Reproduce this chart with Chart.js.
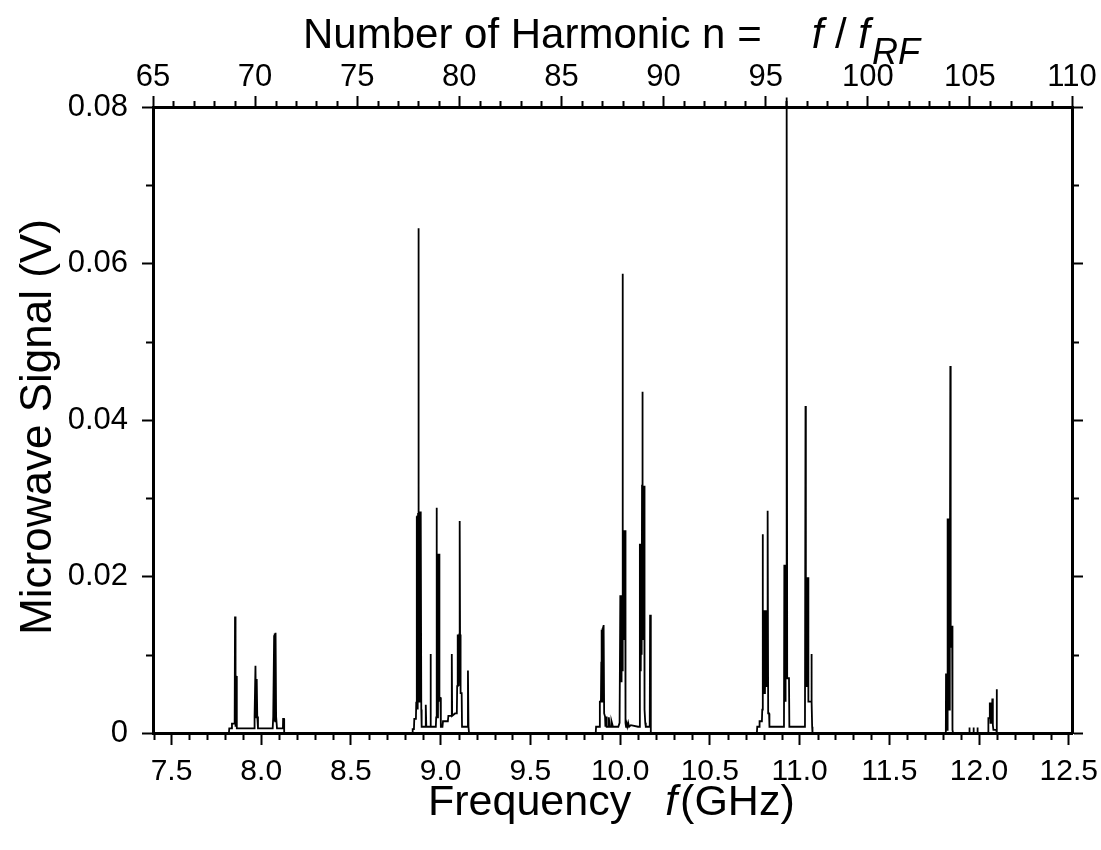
<!DOCTYPE html>
<html>
<head>
    <title>Microwave Signal Spectrum</title>
    <style>
        body {
            margin: 0px;
            background-color: #ffffff;
        }
    </style>
    <!-- Chart.js for drawing the spectrum -->
    <script src="https://cdn.jsdelivr.net/npm/chart.js"></script>
</head>
<body>
    <div style="width: 1101px; height: 850px;">
        <canvas id="spectrum"></canvas>
    </div>
<script>
// Spectrum trace (frequency in GHz, signal in V)
const freqGHz = [
    7.400, 7.820, 7.822, 7.834, 7.837, 7.852, 7.854, 7.857, 7.860, 7.864,
    7.958, 7.961, 7.963, 7.968, 7.971, 7.975, 7.978, 7.982,
    8.064, 8.067, 8.072, 8.074, 8.076, 8.078, 8.080, 8.083, 8.086, 8.088, 8.121, 8.122, 8.127, 8.128,
    8.843, 8.844, 8.851, 8.853, 8.862, 8.864, 8.866, 8.868, 8.870, 8.872, 8.874, 8.876, 8.878, 8.880,
    8.882, 8.884, 8.886, 8.888, 8.890, 8.892, 8.894, 8.915, 8.917, 8.920, 8.941, 8.943, 8.946,
    8.973, 8.975, 8.977, 8.979, 8.985, 8.987, 8.989, 8.991, 8.993, 8.999, 9.001,
    9.010, 9.013, 9.040, 9.043, 9.060, 9.062, 9.064, 9.080, 9.090, 9.092, 9.094, 9.096, 9.098, 9.100,
    9.104, 9.106, 9.108, 9.111, 9.117, 9.119, 9.150, 9.152, 9.155, 9.157, 9.158,
    9.864, 9.866, 9.885, 9.887, 9.893, 9.895, 9.897, 9.899, 9.901, 9.903, 9.905, 9.907, 9.909, 9.911,
    9.916, 9.918, 9.922, 9.925, 9.935, 9.937, 9.942, 9.950, 9.952, 9.960, 9.990, 9.997, 9.999,
    10.001, 10.003, 10.005, 10.007, 10.009, 10.011, 10.013, 10.0145, 10.016, 10.018, 10.020, 10.022,
    10.024, 10.026, 10.028, 10.030, 10.033, 10.035, 10.040, 10.045, 10.050, 10.060, 10.100, 10.108,
    10.110, 10.112, 10.114, 10.116, 10.118, 10.120, 10.122, 10.124, 10.126, 10.128, 10.130, 10.132,
    10.134, 10.136, 10.140, 10.143, 10.165, 10.167, 10.170, 10.172,
    10.762, 10.764, 10.775, 10.777, 10.790, 10.792, 10.794, 10.796, 10.798, 10.801, 10.804, 10.807,
    10.810, 10.813, 10.816, 10.819, 10.821, 10.823, 10.825, 10.830, 10.832,
    10.913, 10.915, 10.917, 10.919, 10.921, 10.923, 10.925, 10.927, 10.929, 10.931, 10.933, 10.941, 10.943,
    11.030, 11.033, 11.035, 11.037, 11.039, 11.041, 11.043, 11.045, 11.047, 11.049, 11.064, 11.066,
    11.068, 11.070, 11.072,
    11.812, 11.815, 11.816, 11.818, 11.822, 11.824, 11.826, 11.828, 11.830, 11.832, 11.834, 11.836,
    11.838, 11.840, 11.842, 11.844, 11.846, 11.848, 11.850, 11.852, 11.855,
    11.945, 11.946, 11.948, 11.968, 11.969, 11.971, 11.990, 11.991, 11.993,
    12.050, 12.052, 12.058, 12.060, 12.064, 12.068, 12.072, 12.074, 12.077, 12.080, 12.096, 12.098, 12.100,
    12.515
];
const signalV = [
    0, 0, 0.0006, 0.0006, 0.0012, 0.0012, 0.0149, 0.0008, 0.0073, 0.0006,
    0.0006, 0.0006, 0.0021, 0.0086, 0.0020, 0.0069, 0.0021, 0.0006,
    0.0006, 0.0021, 0.0125, 0.0015, 0.0127, 0.0015, 0.0128, 0.0021, 0.0021, 0.0006, 0.0006, 0.0018, 0.0018, 0,
    0, 0.0005, 0.0005, 0.0018, 0.0018, 0.0040, 0.0277, 0.0030, 0.0278, 0.0030, 0.0280, 0.0645, 0.0280, 0.0040,
    0.0282, 0.0040, 0.0283, 0.0040, 0.0278, 0.0030, 0.0008, 0.0008, 0.0036, 0.0008, 0.0008, 0.0101, 0.0008,
    0.0008, 0.0020, 0.0288, 0.0020, 0.0020, 0.0229, 0.0040, 0.0229, 0.0045, 0.0045, 0.0008,
    0.0008, 0.0015, 0.0015, 0.0022, 0.0022, 0.0101, 0.0022, 0.0025, 0.0025, 0.0060, 0.0126, 0.0060, 0.0126, 0.0060,
    0.0126, 0.0271, 0.0126, 0.0051, 0.0051, 0.0008, 0.0008, 0.0080, 0.0008, 0.0008, 0,
    0, 0.0008, 0.0008, 0.0040, 0.0040, 0.0090, 0.0132, 0.0040, 0.0134, 0.0040, 0.0136, 0.0040, 0.0138, 0.0025,
    0.0021, 0.0008, 0.0021, 0.0008, 0.0008, 0.0020, 0.0008, 0.0008, 0.0015, 0.0008, 0.0008, 0.0013, 0.0013,
    0.0176, 0.0065, 0.0176, 0.0065, 0.0176, 0.0080, 0.0176, 0.0587, 0.0259, 0.0120, 0.0259, 0.0120,
    0.0259, 0.0120, 0.0259, 0.0013, 0.0008, 0.0013, 0.0008, 0.0013, 0.0008, 0.0010, 0.0008, 0.0008,
    0.0242, 0.0080, 0.0242, 0.0080, 0.0242, 0.0100, 0.0316, 0.0436, 0.0316, 0.0120, 0.0316, 0.0120,
    0.0316, 0.0030, 0.0013, 0.0008, 0.0008, 0.0151, 0.0008, 0,
    0, 0.0008, 0.0008, 0.0015, 0.0015, 0.0030, 0.0254, 0.0050, 0.0157, 0.0050, 0.0157, 0.0050,
    0.0157, 0.0060, 0.0157, 0.0060, 0.0157, 0.0284, 0.0025, 0.0025, 0.0008,
    0.0008, 0.0215, 0.0040, 0.0215, 0.0040, 0.0215, 0.0100, 0.0215, 0.0812, 0.0070, 0.0070, 0.0070, 0.0008,
    0.0008, 0.0418, 0.0199, 0.0060, 0.0199, 0.0060, 0.0199, 0.0060, 0.0199, 0.0040, 0.0040, 0.0101,
    0.0040, 0.0008, 0,
    0, 0.0004, 0.0076, 0.0004, 0.0004, 0.0274, 0.0030, 0.0274, 0.0030, 0.0274, 0.0030, 0.0274,
    0.0110, 0.0469, 0.0137, 0.0110, 0.0137, 0.0110, 0.0137, 0.0004, 0,
    0, 0.0007, 0, 0, 0.0007, 0, 0, 0.0007, 0,
    0, 0.0019, 0.0019, 0.0039, 0.0012, 0.0039, 0.0012, 0.0044, 0.0010, 0.0004, 0.0004, 0.0056, 0,
    0
];

// Axis ticks
const freqTicks = [7.5, 8.0, 8.5, 9.0, 9.5, 10.0, 10.5, 11.0, 11.5, 12.0, 12.5];
const harmonicTicks = [65, 70, 75, 80, 85, 90, 95, 100, 105, 110];
const signalTicks = [0, 0.02, 0.04, 0.06, 0.08];
const signalTickLabels = ['0', '0.02', '0.04', '0.06', '0.08'];

const fRF = 0.1138; // GHz, so that n = f / fRF
const fontFamily = "'Liberation Sans', Arial, sans-serif";

// build the {x, y} points for the line
const tracePoints = freqGHz.map((f, i) => ({ x: f, y: signalV[i] }));

// small ticks between the labelled ones
const minorTicks = {
    id: 'minorTicks',
    afterDraw(chart) {
        const { ctx, chartArea: a, scales } = chart;
        ctx.save();
        ctx.strokeStyle = '#000';
        ctx.lineWidth = 2;
        ctx.beginPath();
        for (let i = 74; i <= 125; i++) {
            if (i % 5 === 0) continue;
            const px = Math.round(scales.x.getPixelForValue(i / 10)) + 0.5;
            ctx.moveTo(px, a.bottom);
            ctx.lineTo(px, a.bottom + 7);
        }
        for (let n = 65; n <= 110; n++) {
            if (n % 5 === 0) continue;
            const px = Math.round(scales.x2.getPixelForValue(n)) + 0.5;
            ctx.moveTo(px, a.top);
            ctx.lineTo(px, a.top - 6);
        }
        for (const v of [0.01, 0.03, 0.05, 0.07]) {
            const py = Math.round(scales.y.getPixelForValue(v)) + 0.5;
            ctx.moveTo(a.left, py);
            ctx.lineTo(a.left - 7, py);
            ctx.moveTo(a.right, py);
            ctx.lineTo(a.right + 7, py);
        }
        ctx.stroke();
        ctx.restore();
    }
};

// axis titles with italic f and the RF subscript
function drawRun(ctx, x, y, parts) {
    for (const p of parts) {
        ctx.font = p.font;
        ctx.fillText(p.text, x, y + (p.dy || 0));
        x += ctx.measureText(p.text).width + (p.gap || 0);
    }
}
const axisTitles = {
    id: 'axisTitles',
    afterDraw(chart) {
        const ctx = chart.ctx;
        ctx.save();
        ctx.fillStyle = '#000';
        ctx.textBaseline = 'alphabetic';
        ctx.textAlign = 'left';
        drawRun(ctx, 303, 48, [
            { text: 'Number of Harmonic n =', font: '42px ' + fontFamily, gap: 50 },
            { text: 'f', font: 'italic 42px ' + fontFamily },
            { text: ' / ', font: '42px ' + fontFamily },
            { text: 'f', font: 'italic 42px ' + fontFamily, gap: 2 },
            { text: 'RF', font: 'italic 36px ' + fontFamily, dy: 16 }
        ]);
        drawRun(ctx, 428, 815, [
            { text: 'Frequency', font: '43px ' + fontFamily, gap: 34 },
            { text: 'f', font: 'italic 43px ' + fontFamily, gap: 3 },
            { text: '(GHz)', font: '43px ' + fontFamily }
        ]);
        ctx.translate(51, 427);
        ctx.rotate(-Math.PI / 2);
        ctx.textAlign = 'center';
        ctx.font = '44px ' + fontFamily;
        ctx.fillText('Microwave Signal (V)', 0, 0);
        ctx.restore();
    }
};

function axisGrid(len) {
    return { drawOnChartArea: false, drawTicks: true, tickLength: len, tickWidth: 2, color: '#000', tickColor: '#000' };
}
const axisBorder = { display: true, width: 3, color: '#000' };

// keep the plot box fixed: no extra room for overhanging edge labels
function fixHeight(h) {
    return s => { s.height = h; s.paddingLeft = 0; s.paddingRight = 0; };
}
function fixWidth(w) {
    return s => { s.width = w; s.paddingTop = 0; s.paddingBottom = 0; };
}

new Chart(document.getElementById('spectrum'), {
    type: 'line',
    data: {
        datasets: [{
            data: tracePoints,
            borderColor: '#000',
            borderWidth: 1.8,
            pointRadius: 0,
            tension: 0,
            clip: false
        }]
    },
    options: {
        responsive: true,
        maintainAspectRatio: false,
        animation: false,
        layout: { padding: 0 },
        plugins: {
            legend: { display: false },
            tooltip: { enabled: false }
        },
        scales: {
            x: {
                type: 'linear',
                position: 'bottom',
                min: 65 * fRF,
                max: 110 * fRF,
                afterBuildTicks: s => { s.ticks = freqTicks.map(v => ({ value: v })); },
                afterFit: fixHeight(117),
                ticks: { autoSkip: false, maxRotation: 0, padding: 9, color: '#000',
                         font: { family: fontFamily, size: 30 },
                         callback: v => v.toFixed(1) },
                grid: axisGrid(12),
                border: axisBorder
            },
            x2: {
                type: 'linear',
                position: 'top',
                min: 65,
                max: 110,
                afterBuildTicks: s => { s.ticks = harmonicTicks.map(v => ({ value: v })); },
                afterFit: fixHeight(107),
                ticks: { autoSkip: false, maxRotation: 0, padding: 0, color: '#000',
                         font: { family: fontFamily, size: 31 } },
                grid: axisGrid(11),
                border: axisBorder
            },
            y: {
                type: 'linear',
                position: 'left',
                min: 0,
                max: 0.08,
                afterBuildTicks: s => { s.ticks = signalTicks.map(v => ({ value: v })); },
                afterFit: fixWidth(153),
                ticks: { autoSkip: false, padding: 14, color: '#000',
                         font: { family: fontFamily, size: 31 },
                         callback: (v, i) => signalTickLabels[i] },
                grid: axisGrid(11),
                border: axisBorder
            },
            y2: {
                type: 'linear',
                position: 'right',
                min: 0,
                max: 0.08,
                afterBuildTicks: s => { s.ticks = signalTicks.map(v => ({ value: v })); },
                afterFit: fixWidth(29),
                ticks: { display: false },
                grid: axisGrid(11),
                border: axisBorder
            }
        }
    },
    plugins: [minorTicks, axisTitles]
});
</script>
</body>
</html>
